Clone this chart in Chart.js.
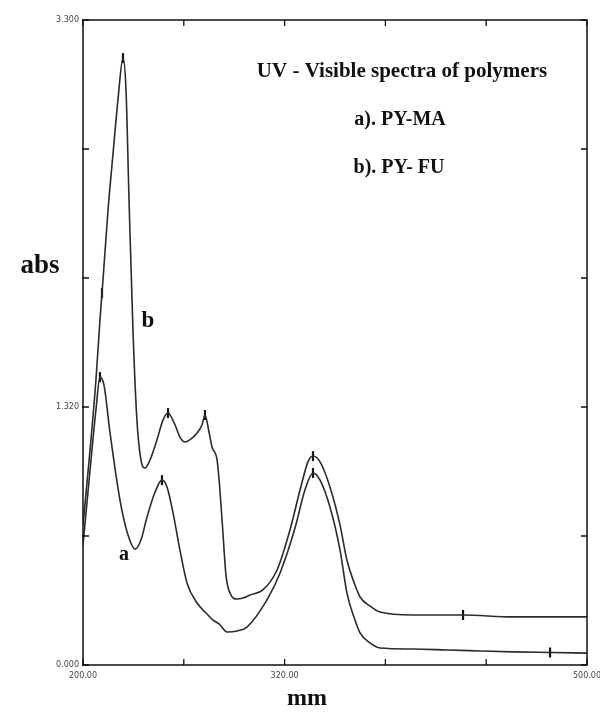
<!DOCTYPE html>
<html>
<head>
<meta charset="utf-8">
<script src="https://cdn.jsdelivr.net/npm/chart.js@4/dist/chart.umd.min.js"></script>
<style>
  html, body { margin: 0; padding: 0; background: #fff; }
  #wrap { width: 600px; height: 715px; }
</style>
</head>
<body>
<div id="wrap"><canvas id="spectra" width="600" height="715"></canvas></div>
<script>
// curve a) PY-MA, wavelength (nm) and absorbance
const aX = [200, 204.2, 207.7, 210.1, 212.5, 216.1, 222.0, 226.8, 231.0, 234.5, 238.1, 242.9, 247.0, 250.0,
  253.6, 257.7, 261.9, 267.9, 273.8, 277.4, 281.0, 285.7, 291.7, 297.6, 309.5, 317.3, 326.2, 332.1,
  336.9, 341.1, 347.0, 353.0, 357.1, 361.9, 364.9, 370.8, 376.8, 396.4, 416.7, 436.3, 455.9, 478.0, 500];
const aY = [0.614, 0.998, 1.305, 1.473, 1.432, 1.187, 0.844, 0.665, 0.593, 0.640, 0.757, 0.885, 0.946, 0.911,
  0.778, 0.588, 0.420, 0.317, 0.261, 0.230, 0.210, 0.169, 0.174, 0.194, 0.333, 0.471, 0.701, 0.895,
  0.982, 0.946, 0.808, 0.588, 0.368, 0.230, 0.164, 0.113, 0.087, 0.082, 0.077, 0.072, 0.067, 0.064, 0.061];

// curve b) PY-FU
const bX = [200, 204.2, 207.7, 210.1, 211.9, 214.9, 217.9, 220.8, 223.8, 225.6, 227.4, 229.8, 232.1, 234.5,
  236.9, 239.9, 244.0, 247.6, 250.6, 254.8, 257.7, 260.7, 264.9, 267.9, 270.8, 272.6, 275.0, 276.8,
  279.8, 281.5, 283.3, 285.1, 287.5, 291.7, 295.2, 299.4, 307.1, 315.5, 323.2, 329.2, 333.9, 336.9,
  341.1, 347.0, 353.0, 357.1, 361.9, 364.9, 370.8, 376.8, 396.4, 426.2, 455.9, 478.0, 500];
const bY = [0.716, 1.100, 1.458, 1.765, 1.970, 2.328, 2.619, 2.891, 3.105, 2.942, 2.379, 1.698, 1.253, 1.049,
  1.008, 1.049, 1.151, 1.253, 1.289, 1.228, 1.166, 1.141, 1.161, 1.187, 1.228, 1.279, 1.192, 1.115,
  1.049, 0.895, 0.675, 0.460, 0.368, 0.338, 0.343, 0.358, 0.384, 0.486, 0.691, 0.895, 1.039, 1.069,
  1.039, 0.911, 0.716, 0.537, 0.409, 0.348, 0.302, 0.271, 0.256, 0.256, 0.246, 0.246, 0.246];

// peak pick marks
const peakX = [211.3, 223.8, 250.6, 272.6, 336.9, 426.2, 210.1, 247.0, 336.9, 478.0];
const peakY = [1.903, 3.105, 1.289, 1.279, 1.069, 0.256, 1.473, 0.946, 0.982, 0.064];

// axis ticks
const xTickLabels = [200, 320, 500];
const yTickLabels = [0, 1.32, 3.3];

const serif = '"Liberation Serif", "DejaVu Serif", serif';

function toPoints(xs, ys) {
  return xs.map((x, i) => ({ x: x, y: ys[i] }));
}

// frame, inward tick marks and the free text on the figure
const decorations = {
  id: 'decorations',
  afterDraw(chart) {
    const ctx = chart.ctx;
    const area = chart.chartArea;
    const xs = chart.scales.x;
    const ys = chart.scales.y;
    ctx.save();
    ctx.strokeStyle = '#111';
    ctx.lineWidth = 1.5;
    ctx.strokeRect(area.left, area.top, area.right - area.left, area.bottom - area.top);

    ctx.lineWidth = 1.3;
    ctx.beginPath();
    xs.ticks.forEach(t => {
      const px = xs.getPixelForValue(t.value);
      ctx.moveTo(px, area.bottom); ctx.lineTo(px, area.bottom - 6);
      ctx.moveTo(px, area.top); ctx.lineTo(px, area.top + 6);
    });
    ys.ticks.forEach(t => {
      const py = ys.getPixelForValue(t.value);
      ctx.moveTo(area.left - 1, py); ctx.lineTo(area.left + 6, py);
      ctx.moveTo(area.right, py); ctx.lineTo(area.right - 6, py);
    });
    ctx.stroke();

    ctx.fillStyle = '#111';
    ctx.textAlign = 'center';
    ctx.textBaseline = 'middle';
    ctx.font = 'bold 21px ' + serif;
    ctx.fillText('UV - Visible spectra of polymers', 402, 72);
    ctx.font = 'bold 20px ' + serif;
    ctx.fillText('a). PY-MA', 400, 120);
    ctx.fillText('b). PY- FU', 399, 168);

    ctx.font = 'bold 27px ' + serif;
    ctx.fillText('abs', 40, 266);
    ctx.font = 'bold 24px ' + serif;
    ctx.fillText('mm', 307, 699);

    ctx.font = 'bold 23px ' + serif;
    ctx.fillText('b', 148, 321);
    ctx.font = 'bold 20px ' + serif;
    ctx.fillText('a', 124, 555);
    ctx.restore();
  }
};

function initChart() {
  const ctx = document.getElementById('spectra').getContext('2d');
  new Chart(ctx, {
    type: 'line',
    data: {
      datasets: [
        {
          label: 'a). PY-MA',
          data: toPoints(aX, aY),
          borderColor: '#2b2b2b',
          borderWidth: 1.6,
          pointRadius: 0,
          cubicInterpolationMode: 'monotone',
          fill: false
        },
        {
          label: 'b). PY- FU',
          data: toPoints(bX, bY),
          borderColor: '#2b2b2b',
          borderWidth: 1.6,
          pointRadius: 0,
          cubicInterpolationMode: 'monotone',
          fill: false
        },
        {
          label: 'peaks',
          data: toPoints(peakX, peakY),
          showLine: false,
          pointStyle: 'line',
          rotation: 90,
          pointRadius: 5,
          borderColor: '#111',
          borderWidth: 2.2
        }
      ]
    },
    options: {
      responsive: false,
      animation: false,
      layout: { padding: { top: 20, right: 13, left: 0, bottom: 0 } },
      plugins: {
        legend: { display: false },
        tooltip: { enabled: false }
      },
      scales: {
        x: {
          type: 'linear',
          min: 200,
          max: 500,
          grid: { display: false, drawTicks: false },
          border: { display: false },
          afterFit: scale => {
            scale.height = 50;
            scale.paddingLeft = 0;
            scale.paddingRight = 0;
          },
          ticks: {
            stepSize: 60,
            autoSkip: false,
            maxRotation: 0,
            padding: 6,
            color: '#444',
            font: { family: 'DejaVu Sans', size: 8 },
            callback: v => xTickLabels.some(l => Math.abs(l - v) < 0.01) ? Number(v).toFixed(2) : ''
          }
        },
        y: {
          min: 0,
          max: 3.3,
          grid: { display: false, drawTicks: false },
          border: { display: false },
          afterFit: scale => {
            scale.width = 83;
            scale.paddingTop = 0;
            scale.paddingBottom = 0;
          },
          ticks: {
            stepSize: 0.66,
            autoSkip: false,
            padding: 4,
            color: '#444',
            font: { family: 'DejaVu Sans', size: 8 },
            callback: v => yTickLabels.some(l => Math.abs(l - v) < 0.001) ? Number(v).toFixed(3) : ''
          }
        }
      }
    },
    plugins: [decorations]
  });
}

window.onload = initChart;
</script>
</body>
</html>
